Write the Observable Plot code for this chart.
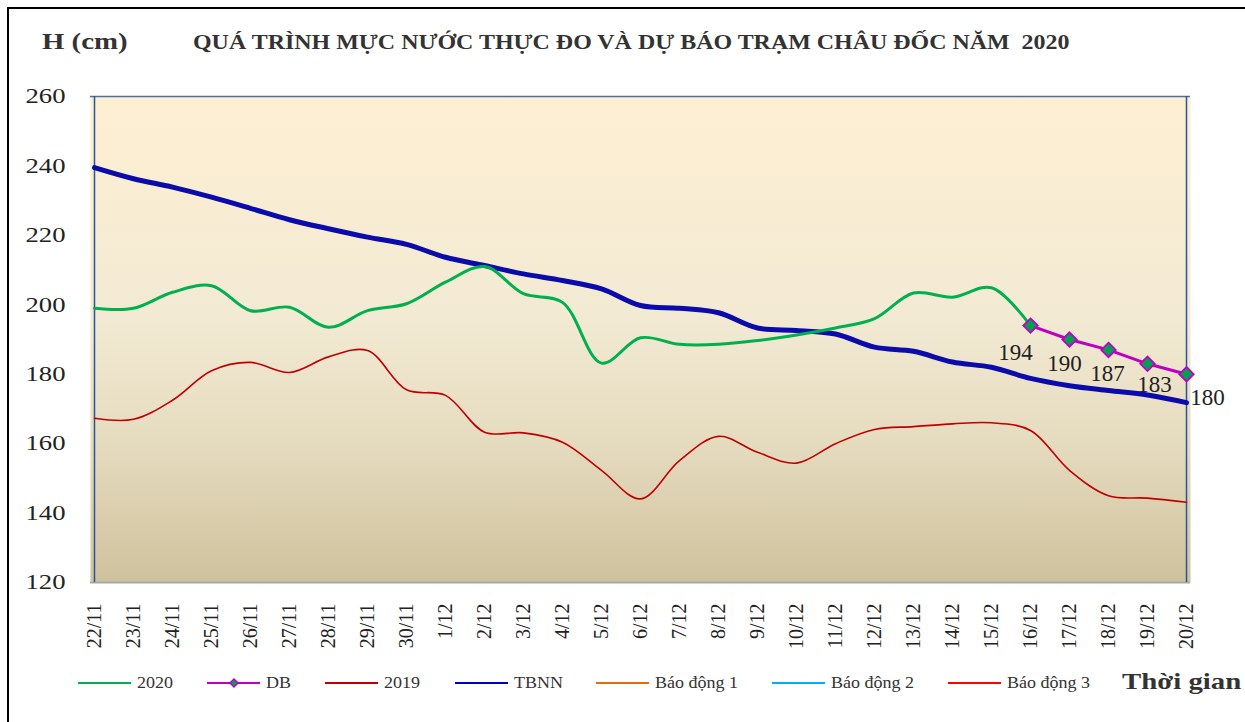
<!DOCTYPE html>
<html>
<head>
<meta charset="utf-8">
<script src="https://cdn.jsdelivr.net/npm/d3@7"></script>
<script src="https://cdn.jsdelivr.net/npm/@observablehq/plot@0.6"></script>
<style>
  html, body { margin: 0; padding: 0; background: #fff; }
  body { width: 1245px; height: 722px; position: relative; overflow: hidden; font-family: "Liberation Serif", "Times New Roman", serif; }
  #border { position: absolute; left: 7px; top: 7px; width: 1300px; height: 800px; border-left: 2px solid #000; border-top: 2px solid #000; }
  #chart { position: absolute; left: 0; top: 0; }
  .hdr { position: absolute; font-weight: bold; color: #333; white-space: nowrap; transform-origin: 0 50%; }
  .leg { position: absolute; top: 673px; height: 20px; display: flex; align-items: center; font-size: 17px; color: #333; white-space: nowrap; }
  .leg svg { margin-right: 6px; }
  .leg span { display: inline-block; transform: scaleX(1.06); transform-origin: 0 50%; }
  #chart svg, #chart svg text { font-family: "Liberation Serif", "Times New Roman", serif !important; }
  #chart svg text { fill: #222; }
</style>
</head>
<body>
<div id="border"></div>
<div id="chart"></div>
<div class="hdr" style="left:42px; top:28px; font-size:24px; transform:scaleX(1.2);">H (cm)</div>
<div class="hdr" style="left:193px; top:30px; font-size:21px; transform:scaleX(1.14);">QUÁ TRÌNH MỰC NƯỚC THỰC ĐO VÀ DỰ BÁO TRẠM CHÂU ĐỐC NĂM&nbsp; 2020</div>
<div id="legend"></div>
<div class="hdr" style="left:1122px; top:668px; font-size:24px; transform:scaleX(1.2);">Thời gian</div>
<script>
const dates = ["22/11","23/11","24/11","25/11","26/11","27/11","28/11","29/11","30/11",
  "1/12","2/12","3/12","4/12","5/12","6/12","7/12","8/12","9/12","10/12","11/12","12/12",
  "13/12","14/12","15/12","16/12","17/12","18/12","19/12","20/12"];
const yTicks = [120,140,160,180,200,220,240,260];
// Observed 2020 (22/11 .. 16/12)
const h2020 = [199,199,203.6,205.5,198.3,199.3,193.5,198.3,200.3,206.5,211,203.2,200.7,183.2,190.5,188.6,188.6,189.7,191.3,193.3,196,203.4,202.2,204.9,194];
// Forecast DB (16/12 .. 20/12)
const dbDates = ["16/12","17/12","18/12","19/12","20/12"];
const dbVals = [194,190,187,183,180];
// 2019
const h2019 = [167.3,167,172.5,181,183.4,180.5,185,186.8,175.5,173.9,163.3,163.1,160.4,152.3,144.1,155.1,162.1,157.5,154.4,160,164.1,164.9,165.7,166,163.8,152.3,145,144.3,143.1];
// TBNN
const tbnn = [239.5,236.3,233.9,231,227.8,224.5,221.9,219.5,217.4,213.7,211.3,208.9,207,204.6,199.8,199,197.7,193.3,192.6,191.6,187.8,186.6,183.5,182,178.8,176.7,175.3,174,171.8];

const legendItems = [
  {name:"2020", color:"#00b050", marker:false},
  {name:"DB", color:"#c000c0", marker:true},
  {name:"2019", color:"#c00000", marker:false},
  {name:"TBNN", color:"#0000c0", marker:false},
  {name:"Báo động 1", color:"#e46c0a", marker:false},
  {name:"Báo động 2", color:"#00b0f0", marker:false},
  {name:"Báo động 3", color:"#ff0000", marker:false}
];

const s2020 = h2020.map((v, i) => ({date: dates[i], v}));
const s2019 = h2019.map((v, i) => ({date: dates[i], v}));
const sTbnn = tbnn.map((v, i) => ({date: dates[i], v}));
const sDb = dbVals.map((v, i) => ({date: dbDates[i], v, label: String(v)}));

const labelOffsets = [[-15, 27], [-5, 24], [-1, 24], [7, 21], [21, 23]];

const chart = Plot.plot({
  width: 1245,
  height: 660,
  marginLeft: 90,
  marginRight: 55,
  marginTop: 96,
  marginBottom: 78,
  style: {background: "transparent", overflow: "visible"},
  x: {type: "point", domain: dates, padding: 0, label: null},
  y: {domain: [120, 260], label: null},
  marks: [
    Plot.frame({fill: "url(#bgGrad)", stroke: null}),
    Plot.ruleY([260], {stroke: "#4d6f9f", strokeWidth: 1.5}),
    Plot.ruleY([120], {stroke: "#a8a8a8", strokeWidth: 2}),
    Plot.ruleX([dates[0], dates[dates.length - 1]], {stroke: "#2c5595", strokeWidth: 1.5}),
    Plot.axisY({ticks: yTicks, tickSize: 0, tickPadding: 25, fontSize: 21, label: null}),
    Plot.axisX({tickRotate: -90, tickSize: 0, tickPadding: 21, fontSize: 20, label: null}),
    Plot.line(s2019, {x: "date", y: "v", stroke: "#c00000", strokeWidth: 1.6, curve: "catmull-rom"}),
    Plot.line(sTbnn, {x: "date", y: "v", stroke: "#0b0bab", strokeWidth: 5, curve: "catmull-rom"}),
    Plot.line(s2020, {x: "date", y: "v", stroke: "#00b050", strokeWidth: 3, curve: "catmull-rom"}),
    Plot.line(sDb, {x: "date", y: "v", stroke: "#c000c0", strokeWidth: 3}),
    Plot.dot(sDb, {x: "date", y: "v", symbol: "diamond2", r: 6.5, fill: "#00a050", stroke: "#c000c0", strokeWidth: 1.8}),
    ...sDb.map((d, i) => Plot.text([d], {x: "date", y: "v", text: "label", dx: labelOffsets[i][0], dy: labelOffsets[i][1], fontSize: 23, fill: "#111"}))
  ]
});

const ns = "http://www.w3.org/2000/svg";
const defs = document.createElementNS(ns, "defs");
defs.innerHTML = `<linearGradient id="bgGrad" x1="0" y1="0" x2="0" y2="1">
  <stop offset="0" stop-color="#fdefd2"/>
  <stop offset="0.45" stop-color="#f3ead4"/>
  <stop offset="0.7" stop-color="#e6dcc0"/>
  <stop offset="1" stop-color="#cfc29e"/>
</linearGradient>`;
chart.insertBefore(defs, chart.firstChild);
document.getElementById("chart").appendChild(chart);

// horizontally stretch the y tick labels like the reference rendering
chart.querySelectorAll('[aria-label="y-axis tick label"] text').forEach(t => {
  const w = t.getComputedTextLength();
  t.setAttribute("textLength", (w * 1.27).toFixed(1));
  t.setAttribute("lengthAdjust", "spacingAndGlyphs");
});

const legendLefts = [78, 207, 325, 455, 596, 772, 948];
const legend = document.getElementById("legend");
legendItems.forEach((it, i) => {
  const div = document.createElement("div");
  div.className = "leg";
  div.style.left = legendLefts[i] + "px";
  const mk = it.marker ? `<path d="M27,6 L31,10 L27,14 L23,10 Z" fill="#00a050" stroke="${it.color}" stroke-width="1.5"/>` : "";
  div.innerHTML = `<svg width="53" height="20"><line x1="0" x2="53" y1="10" y2="10" stroke="${it.color}" stroke-width="2"/>${mk}</svg><span>${it.name}</span>`;
  legend.appendChild(div);
});
</script>
</body>
</html>
